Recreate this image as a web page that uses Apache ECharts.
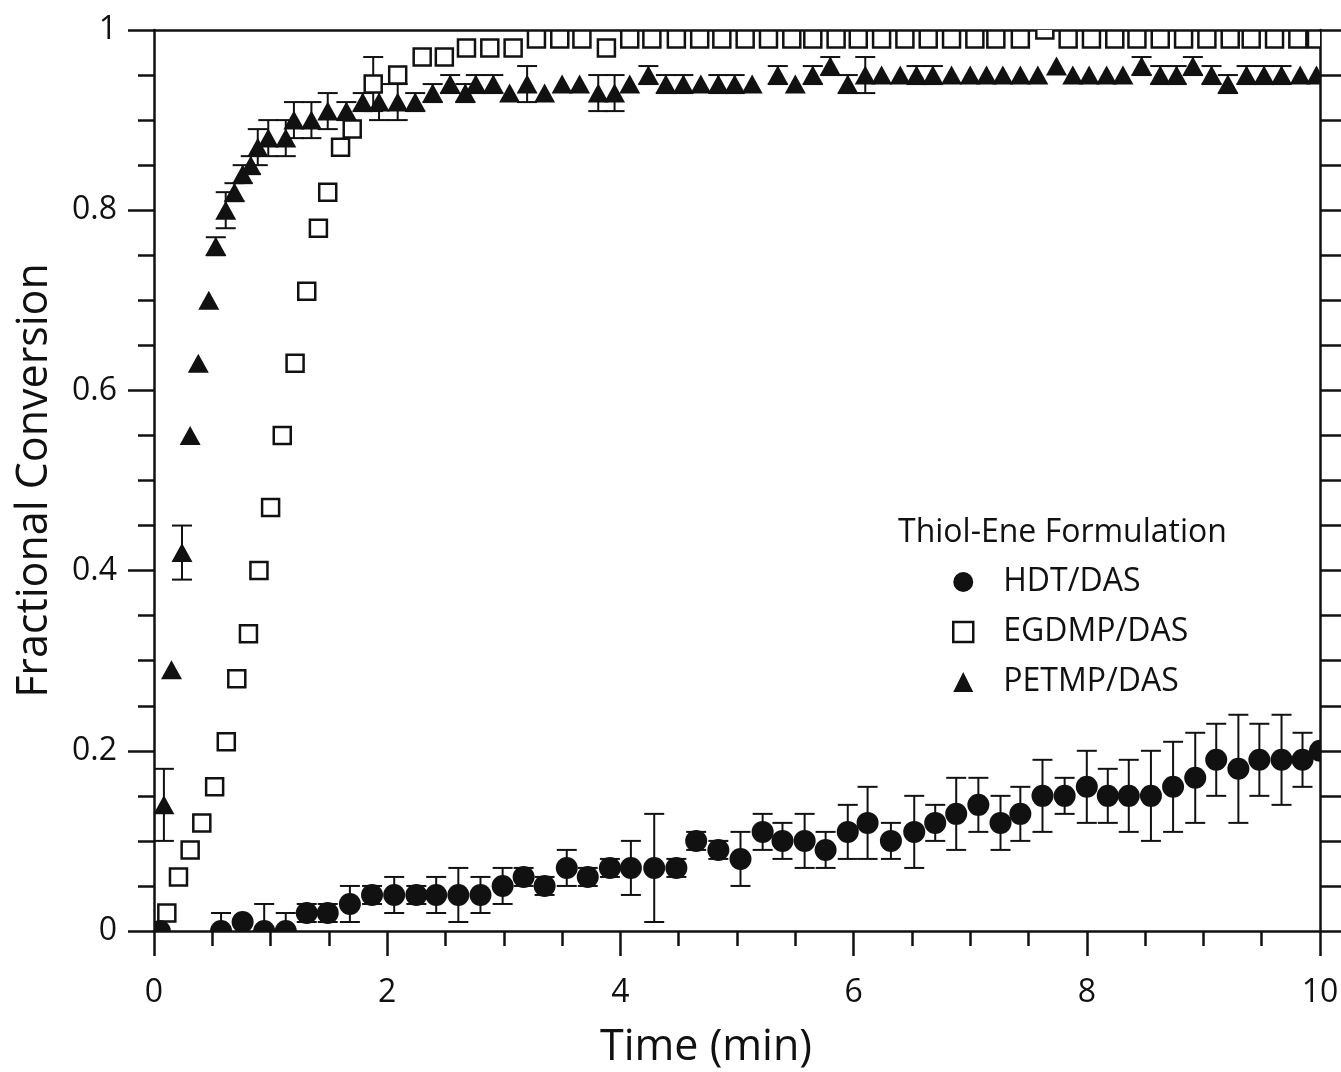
<!DOCTYPE html>
<html>
<head>
<meta charset="utf-8">
<script src="https://cdn.jsdelivr.net/npm/echarts@6/dist/echarts.min.js"></script>
<style>
html,body{margin:0;padding:0;background:#fff;}
#c{width:1341px;height:1072px;}
</style>
</head>
<body>
<div id="c"></div>
<script>
// ---- Data ----
const hdtTime = [0.05,0.575,0.76,0.945,1.13,1.31,1.49,1.68,1.87,2.06,2.25,2.42,2.61,2.80,2.99,3.17,3.35,3.54,3.72,3.91,4.09,4.29,4.48,4.65,4.84,5.03,5.22,5.39,5.58,5.76,5.95,6.12,6.32,6.52,6.70,6.88,7.07,7.26,7.43,7.62,7.81,8.00,8.18,8.36,8.55,8.74,8.93,9.11,9.30,9.48,9.67,9.85,10.0];
const hdtValue = [0,0,0.01,0,0, 0.02,0.02,0.03,0.04,0.04, 0.04,0.04,0.04,0.04,0.05, 0.06,0.05,0.07,0.06,0.07, 0.07,0.07,0.07,0.10,0.09, 0.08,0.11,0.10,0.10,0.09, 0.11,0.12,0.10,0.11,0.12, 0.13,0.14,0.12,0.13,0.15, 0.15,0.16,0.15,0.15,0.15, 0.16,0.17,0.19,0.18,0.19, 0.19,0.19,0.20];
const hdtError = [0,0.02,0,0.03,0.02, 0.01,0.01,0.02,0.01,0.02, 0.01,0.02,0.03,0.02,0.02, 0.01,0.01,0.02,0.01,0.01, 0.03,0.06,0.01,0.01,0.01, 0.03,0.02,0.02,0.03,0.02, 0.03,0.04,0.02,0.04,0.02, 0.04,0.03,0.03,0.03,0.04, 0.02,0.04,0.03,0.04,0.05, 0.05,0.05,0.04,0.06,0.04, 0.05,0.03,0];

const egTime = [0.11,0.21,0.31,0.41,0.52, 0.62,0.71,0.81,0.90,1.00, 1.10,1.21,1.31,1.41,1.49, 1.60,1.70,1.88,2.09,2.30, 2.49,2.68,2.88,3.08,3.28, 3.48,3.67,3.88,4.08,4.27, 4.48,4.68,4.87,5.07,5.27, 5.47,5.65,5.85,6.04,6.24, 6.44,6.64,6.84,7.04,7.22, 7.43,7.64,7.84,8.04,8.24, 8.43,8.63,8.83,9.03,9.23, 9.41,9.61,9.81,9.97];
const egValue = [0.02,0.06,0.09,0.12,0.16, 0.21,0.28,0.33,0.40,0.47, 0.55,0.63,0.71,0.78,0.82, 0.87,0.89,0.94,0.95,0.97, 0.97,0.98,0.98,0.98,0.99, 0.99,0.99,0.98,0.99,0.99, 0.99,0.99,0.99,0.99,0.99, 0.99,0.99,0.99,0.99,0.99, 0.99,0.99,0.99,0.99,0.99, 0.99,1.00,0.99,0.99,0.99, 0.99,0.99,0.99,0.99,0.99, 0.99,0.99,0.99,0.99];
const egError = [0,0,0,0,0, 0,0,0,0,0, 0,0,0,0,0, 0,0,0.03,0,0, 0,0,0,0,0, 0,0,0,0,0, 0,0,0,0,0, 0,0,0,0,0, 0,0,0,0,0, 0,0,0,0,0, 0,0,0,0,0, 0,0,0,0];

const peTime = [0.085,0.15,0.24,0.31,0.38, 0.47,0.53,0.615,0.69,0.76, 0.83,0.89,0.98,1.13,1.20, 1.35,1.49,1.65,1.79,1.93, 2.09,2.24,2.39,2.54,2.67, 2.76,2.91,3.05,3.20,3.35, 3.50,3.65,3.81,3.95,4.08, 4.24,4.39,4.54,4.69,4.84, 4.98,5.13,5.35,5.50,5.65, 5.80,5.95,6.10,6.24,6.40, 6.54,6.68,6.84,7.00,7.14, 7.28,7.43,7.58,7.74,7.88, 8.02,8.17,8.31,8.47,8.63, 8.77,8.91,9.07,9.21,9.37, 9.52,9.67,9.83,9.97];
const peValue = [0.14,0.29,0.42,0.55,0.63, 0.70,0.76,0.80,0.82,0.84, 0.85,0.87,0.88,0.88,0.90, 0.90,0.91,0.91,0.92,0.92, 0.92,0.92,0.93,0.94,0.93, 0.94,0.94,0.93,0.94,0.93, 0.94,0.94,0.93,0.93,0.94, 0.95,0.94,0.94,0.94,0.94, 0.94,0.94,0.95,0.94,0.95, 0.96,0.94,0.95,0.95,0.95, 0.95,0.95,0.95,0.95,0.95, 0.95,0.95,0.95,0.96,0.95, 0.95,0.95,0.95,0.96,0.95, 0.95,0.96,0.95,0.94,0.95, 0.95,0.95,0.95,0.95];
const peError = [0.04,0,0.03,0,0, 0,0.01,0.02,0.01,0.01, 0.01,0.02,0.02,0.02,0.02, 0.02,0.02,0.01,0.01,0.02, 0.02,0.01,0.01,0.01,0.01, 0.01,0.01,0,0.02,0, 0,0,0.02,0.02,0, 0.01,0.01,0.01,0,0.01, 0.01,0,0.01,0,0.01, 0.01,0.01,0.02,0,0, 0.01,0.01,0,0,0, 0,0,0,0,0, 0,0,0,0.01,0.01, 0.01,0.01,0.01,0.01,0.01, 0.01,0.01,0,0];

const xTicks = {min: 0, max: 10, interval: 2};
const yTicks = {min: 0, max: 1, interval: 0.2};
const seriesNames = ['HDT/DAS', 'EGDMP/DAS', 'PETMP/DAS'];

// ---- Build ----
const FONT = '"Open Sans", "DejaVu Sans", sans-serif';
const INK = '#111111';
function pts(t, v) { return t.map((x, i) => [x, v[i]]); }
function bars(t, v, e) {
  const out = [];
  t.forEach((x, i) => { if (e[i] > 0) out.push([x, v[i] - e[i], v[i] + e[i]]); });
  return out;
}
const errorData = bars(hdtTime, hdtValue, hdtError)
  .concat(bars(egTime, egValue, egError))
  .concat(bars(peTime, peValue, peError));

function renderErr(params, api) {
  const x = api.value(0), lo = api.value(1), hi = api.value(2);
  const a = api.coord([x, lo]), b = api.coord([x, hi]);
  const w = 10;
  const style = {stroke: INK, lineWidth: 2};
  return {type: 'group', children: [
    {type: 'line', shape: {x1: a[0], y1: a[1], x2: b[0], y2: b[1]}, style: style},
    {type: 'line', shape: {x1: b[0] - w, y1: b[1], x2: b[0] + w, y2: b[1]}, style: style},
    {type: 'line', shape: {x1: a[0] - w, y1: a[1], x2: a[0] + w, y2: a[1]}, style: style}
  ]};
}
function renderCircle(params, api) {
  const p = api.coord([api.value(0), api.value(1)]);
  return {type: 'circle', shape: {cx: p[0], cy: p[1], r: 11}, style: {fill: INK}};
}
function renderSquare(params, api) {
  const p = api.coord([api.value(0), api.value(1)]);
  const h = 8.5;
  return {type: 'rect', shape: {x: p[0] - h, y: p[1] - h, width: 2 * h, height: 2 * h},
          style: {fill: '#fff', stroke: INK, lineWidth: 2.5}};
}
function renderTriangle(params, api) {
  const p = api.coord([api.value(0), api.value(1)]);
  const hw = 10.5, hh = 9.5;
  return {type: 'polygon', shape: {points: [[p[0], p[1] - hh], [p[0] + hw, p[1] + hh], [p[0] - hw, p[1] + hh]]},
          style: {fill: INK}};
}

const lineStyle = {color: INK, width: 2.5};
const chart = echarts.init(document.getElementById('c'));
chart.setOption({
  animation: false,
  backgroundColor: '#fff',
  grid: {left: 154, right: 21, top: 30, bottom: 141, containLabel: false, outerBoundsMode: 'none'},
  xAxis: [
    {type: 'value', min: xTicks.min, max: xTicks.max, interval: xTicks.interval, position: 'bottom',
     axisLine: {show: true, onZero: false, lineStyle: lineStyle},
     axisTick: {show: true, length: 25, lineStyle: lineStyle},
     minorTick: {show: true, splitNumber: 4, length: 15, lineStyle: lineStyle},
     axisLabel: {margin: 46, fontSize: 32, color: INK, fontFamily: FONT},
     splitLine: {show: false}, minorSplitLine: {show: false}},
    {type: 'value', min: xTicks.min, max: xTicks.max, interval: xTicks.interval, position: 'top',
     axisLine: {show: true, onZero: false, lineStyle: lineStyle},
     axisTick: {show: false}, minorTick: {show: false}, axisLabel: {show: false}, splitLine: {show: false}}
  ],
  yAxis: [
    {type: 'value', min: yTicks.min, max: yTicks.max, interval: yTicks.interval, position: 'left',
     name: 'Fractional Conversion', nameLocation: 'middle', nameGap: 98,
     nameTextStyle: {fontSize: 43, color: INK, fontFamily: FONT},
     axisLine: {show: true, onZero: false, lineStyle: lineStyle},
     axisTick: {show: true, length: 26, lineStyle: lineStyle},
     minorTick: {show: true, splitNumber: 4, length: 16, lineStyle: lineStyle},
     axisLabel: {margin: 37, fontSize: 32, color: INK, fontFamily: FONT},
     splitLine: {show: false}, minorSplitLine: {show: false}},
    {type: 'value', min: yTicks.min, max: yTicks.max, interval: yTicks.interval, position: 'right',
     axisLine: {show: true, onZero: false, lineStyle: lineStyle},
     axisTick: {show: true, length: 21, lineStyle: lineStyle},
     minorTick: {show: true, splitNumber: 4, length: 21, lineStyle: lineStyle},
     axisLabel: {show: false}, splitLine: {show: false}, minorSplitLine: {show: false}}
  ],
  legend: {
    data: [
      {name: seriesNames[0], icon: 'circle', itemStyle: {color: INK, borderWidth: 0}},
      {name: seriesNames[1], icon: 'rect', itemStyle: {color: '#fff', borderColor: INK, borderWidth: 2.5}},
      {name: seriesNames[2], icon: 'triangle', itemStyle: {color: INK, borderWidth: 0}}
    ],
    orient: 'vertical', left: 952, top: 566,
    itemWidth: 20, itemHeight: 20, itemGap: 18, padding: 0,
    textStyle: {fontSize: 32, color: INK, fontFamily: FONT, padding: [0, 0, 0, 25]},
    selectedMode: false
  },
  graphic: [
    {type: 'text', left: 898, top: 517,
     style: {text: 'Thiol-Ene Formulation', font: '32px ' + FONT, fill: INK}},
    {type: 'text', x: 706, y: 1048,
     style: {text: 'Time (min)', font: '43px ' + FONT, fill: INK, textAlign: 'center', textVerticalAlign: 'middle'}}
  ],
  series: [
    {type: 'custom', name: 'error', renderItem: renderErr, data: errorData, clip: true,
     encode: {x: 0, y: [1, 2]}, z: 1, silent: true},
    {type: 'custom', name: seriesNames[1], renderItem: renderSquare, data: pts(egTime, egValue), clip: true,
     encode: {x: 0, y: 1}, itemStyle: {color: '#fff', borderColor: INK}, z: 2, silent: true},
    {type: 'custom', name: seriesNames[0], renderItem: renderCircle, data: pts(hdtTime, hdtValue), clip: true,
     encode: {x: 0, y: 1}, itemStyle: {color: INK}, z: 3, silent: true},
    {type: 'custom', name: seriesNames[2], renderItem: renderTriangle, data: pts(peTime, peValue), clip: true,
     encode: {x: 0, y: 1}, itemStyle: {color: INK}, z: 4, silent: true}
  ]
});
</script>
</body>
</html>
